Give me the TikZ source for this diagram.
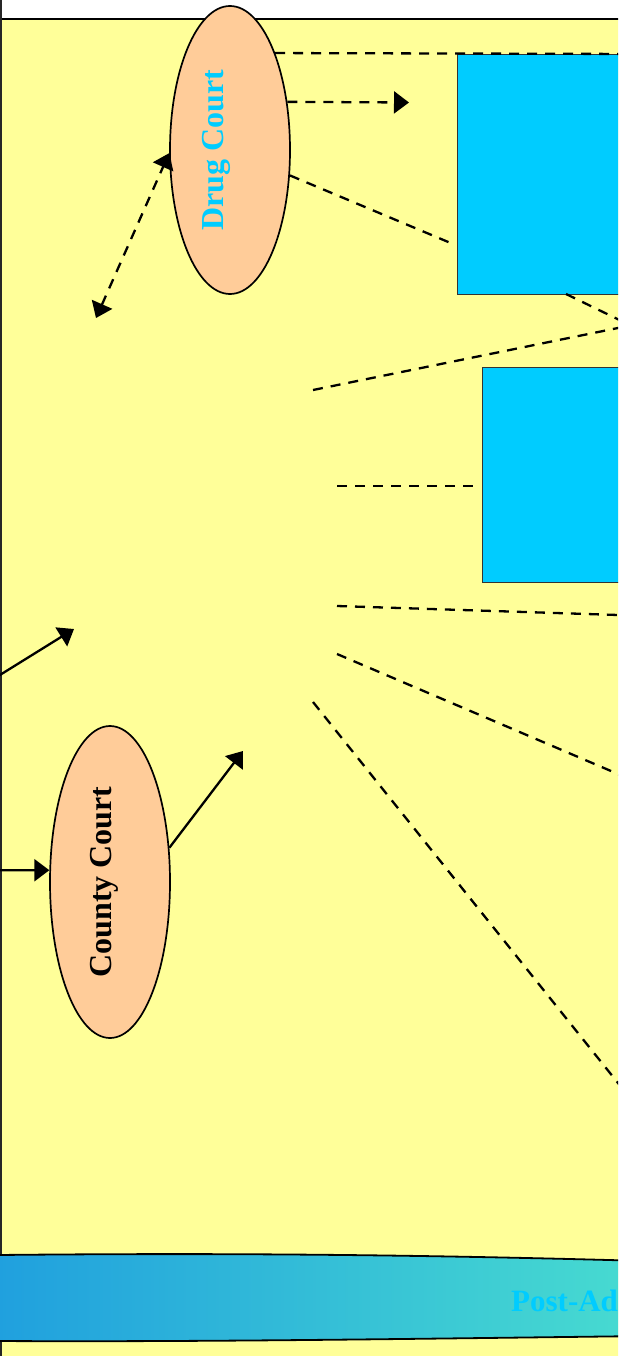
\documentclass[tikz,border=0pt]{standalone}
\usepackage{fontspec}
\setmainfont{Liberation Serif}
\usetikzlibrary{shapes.geometric,arrows.meta}
\definecolor{bgyellow}{HTML}{FFFF99}
\definecolor{peach}{HTML}{FFCC99}
\definecolor{cyanbox}{HTML}{00CCFF}
\definecolor{bandL}{HTML}{20A0DE}
\definecolor{bandR}{HTML}{48DCD0}
\tikzset{
  court/.style={ellipse, draw=black, line width=1.7pt, fill=peach, inner sep=0pt},
  courttext/.style={rotate=90, inner sep=0pt, font=\bfseries\fontsize{32}{36}\selectfont},
  bluebox/.style={rectangle, draw=black!80, line width=1.3pt, fill=cyanbox, inner sep=0pt, anchor=north west},
  dashline/.style={dash pattern=on 10pt off 8pt, line width=2.3pt},
  bigtip/.style={Triangle[length=15pt,width=22pt]},
  tipend/.style={-{Triangle[length=15pt,width=22pt]}},
  solidarrow/.style={line width=2.3pt, -{Triangle[length=15pt,width=22pt]}},
}
\begin{document}
\begin{tikzpicture}[x=1pt,y=-1pt]
\useasboundingbox (0,0) rectangle (618,1356);
\clip (0,0) rectangle (618,1356);
\fill[white] (0,0) rectangle (618,1356);
\fill[bgyellow] (1,19) rectangle (620,1358);
\draw[line width=1.6pt] (-1,19) -- (620,19);
\draw[line width=2pt, black!85] (1,-2) -- (1,1358);

% blue boxes
\node[bluebox, minimum width=243pt, minimum height=240pt] (r1) at (457,54) {};
\node[bluebox, minimum width=218pt, minimum height=215pt] (r2) at (482,367) {};

% court ellipses
\node[court, minimum width=120pt, minimum height=288pt] (dc) at (230,150) {};
\node[courttext, text=cyanbox] (dct) at (216,150) {Drug Court};
\node[court, minimum width=120pt, minimum height=312pt] (cc) at (110,882) {};
\node[courttext] (cct) at (104,882) {County Court};

% free ends
\coordinate (e1) at (640,54);
\coordinate (a1) at (409,102.5);
\coordinate (e3) at (453,244);
\coordinate (d1) at (96,318);
\coordinate (s4) at (566,294);
\coordinate (e4) at (640,330);
\coordinate (s5) at (313,390);
\coordinate (e5) at (640,323.5);
\coordinate (s6) at (337,486);
\coordinate (e6) at (479,486);
\coordinate (s7) at (337,606);
\coordinate (e7) at (640,615.7);
\coordinate (s8) at (337,654);
\coordinate (e8) at (640,783.4);
\coordinate (s9) at (313,702);
\coordinate (e9) at (640,1110.5);
\coordinate (c0) at (-3,676.8);
\coordinate (c1) at (74,629);
\coordinate (c2) at (-3,870.3);
\coordinate (c3) at (243,751);

% dashed connectors
\draw[dashline] (dc.65) -- (e1);
\draw[dashline, tipend] (dc.40) -- (a1);
\draw[dashline] (dc.-23) -- (e3);
\draw[dashline, {Triangle[length=15pt,width=22pt]}-{Triangle[length=15pt,width=22pt]}] (d1) -- (dc.183);
\draw[dashline] (s4) -- (e4);
\draw[dashline] (s5) -- (e5);
\draw[dashline] (s6) -- (e6);
\draw[dashline] (s7) -- (e7);
\draw[dashline] (s8) -- (e8);
\draw[dashline] (s9) -- (e9);

% solid arrows
\draw[solidarrow] (c0) -- (c1);
\draw[solidarrow] (c2) -- (cc.169);
\draw[solidarrow] (cc.30) -- (c3);

% bottom band
\shade[left color=bandL, right color=bandR, draw=black, line width=1.8pt]
  (-3,1255) .. controls (200,1253) and (400,1254) .. (645,1261)
  -- (645,1336) .. controls (400,1339) and (200,1342) .. (-3,1341) -- cycle;
\node[anchor=base west, inner sep=0pt, text=cyanbox, font=\bfseries\fontsize{31}{36}\selectfont] (post) at (511,1311) {Post-Ad};
\end{tikzpicture}
\end{document}
